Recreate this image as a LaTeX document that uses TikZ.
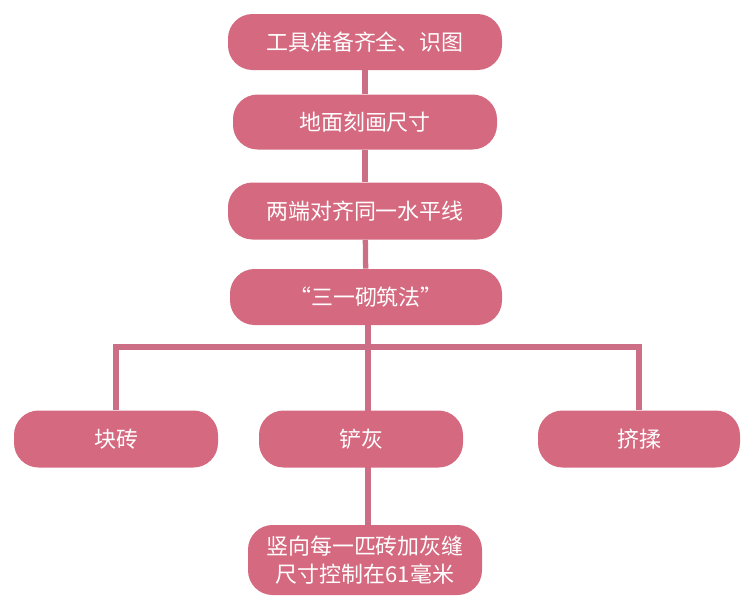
\documentclass[tikz,border=0pt]{standalone}
\usepackage{fontspec}
\usetikzlibrary{backgrounds}
\newfontfamily\cjk{Noto Sans CJK SC}
\definecolor{boxpink}{HTML}{D4697F}
\definecolor{linepink}{HTML}{CC6E86}
\begin{document}
\begin{tikzpicture}[x=0.02cm, y=-0.02cm,
    every node/.style={font=\cjk\fontsize{12.5}{16}\selectfont, text=white},
    stepbox/.style={fill=boxpink, rounded corners=14pt, inner sep=0pt, align=center},
    link/.style={draw=linepink, line width=3pt}]
    \useasboundingbox (0,0) rectangle (748,610);

    % Main steps
    \node[stepbox, minimum width=274*0.02cm, minimum height=56*0.02cm] (tools) at (365,42) {工具准备齐全、识图};
    \node[stepbox, minimum width=264*0.02cm, minimum height=55*0.02cm] (mark) at (365,122) {地面刻画尺寸};
    \node[stepbox, minimum width=274*0.02cm, minimum height=57*0.02cm] (level) at (365,211) {两端对齐同一水平线};
    \node[stepbox, minimum width=272*0.02cm, minimum height=56*0.02cm] (method) at (366,297) {“三一砌筑法”};

    % Branches
    \node[stepbox, minimum width=204*0.02cm, minimum height=57*0.02cm] (brick) at (116,439) {块砖};
    \node[stepbox, minimum width=204*0.02cm, minimum height=57*0.02cm] (mortar) at (361,439) {铲灰};
    \node[stepbox, minimum width=202*0.02cm, minimum height=57*0.02cm] (press) at (639,439) {挤揉};
    \node[stepbox, minimum width=234*0.02cm, minimum height=70*0.02cm] (joint) at (365,560) {竖向每一匹砖加灰缝\\尺寸控制在61毫米};

    \coordinate (split) at (368,347);

    % Connectors
    \begin{scope}[on background layer]
    \draw[link] (tools) -- (mark);
    \draw[link] (mark) -- (level);
    \draw[link] (level) -- (method);
    \draw[link] (method.south -| split) -- (joint.north -| split);
    \draw[link] (brick.north) |- (split) -| (press.north);
    \end{scope}
\end{tikzpicture}
\end{document}
